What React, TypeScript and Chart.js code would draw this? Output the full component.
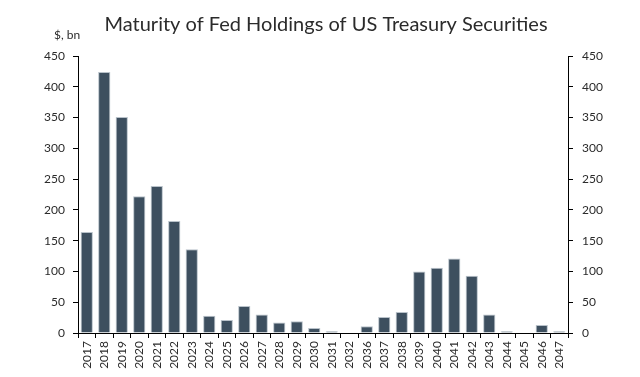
import React, { useEffect, useRef } from "react";
import { Chart, registerables } from "chart.js";

Chart.register(...registerables);

const titleText = "Maturity of Fed Holdings of US Treasury Securities";
const unitText = "$, bn";
const years = [
  "2017", "2018", "2019", "2020", "2021", "2022", "2023", "2024", "2025", "2026",
  "2027", "2028", "2029", "2030", "2031", "2032", "2036", "2037", "2038", "2039",
  "2040", "2041", "2042", "2043", "2044", "2045", "2046", "2047",
];
const holdings = [
  164, 424, 351, 222, 239, 182, 136, 28, 21, 44,
  30, 17, 19, 8, 3, 0, 11, 26, 34, 100,
  106, 121, 93, 30, 3, 0, 13, 3,
];
const yMin = 0;
const yMax = 450;
const yStep = 50;

const FONT = "Lato, 'Open Sans', sans-serif";
const TEXT = "#2b2b2b";

const textPlugin = {
  id: "extraText",
  afterDraw(chart: any) {
    const ctx = chart.ctx;
    ctx.save();
    ctx.fillStyle = TEXT;
    ctx.textBaseline = "alphabetic";
    ctx.textAlign = "center";
    ctx.font = `20px ${FONT}`;
    ctx.fillText(titleText, 326, 31);
    ctx.font = `12px ${FONT}`;
    ctx.textAlign = "left";
    ctx.fillText(unitText, 54, 39);
    ctx.restore();
  },
};

export default function App() {
  const ref = useRef<HTMLCanvasElement>(null);
  useEffect(() => {
    if (!ref.current) return;
    const axisCommon = {
      min: yMin,
      max: yMax,
      border: { display: true, color: "#000000", width: 1 },
      grid: { drawOnChartArea: false, drawTicks: true, tickLength: 5, color: "#000000" },
    };
    const chart = new Chart(ref.current, {
      type: "bar",
      data: {
        labels: years,
        datasets: [
          {
            data: holdings,
            backgroundColor: "#3d4f5f",
            borderColor: "#b9c2ca",
            borderWidth: 1,
            categoryPercentage: 1,
            barPercentage: 0.7,
            yAxisID: "y",
          },
        ],
      },
      options: {
        responsive: false,
        animation: false,
        layout: { padding: { top: 56, left: 0, right: 0, bottom: 0 } },
        plugins: { legend: { display: false }, title: { display: false }, tooltip: { enabled: false } },
        scales: {
          x: {
            offset: true,
            border: { display: true, color: "#000000", width: 1 },
            grid: { offset: true, drawOnChartArea: false, drawTicks: true, tickLength: 5, color: "#000000" },
            ticks: {
              autoSkip: false,
              minRotation: 90,
              maxRotation: 90,
              padding: 3,
              color: TEXT,
              font: { family: FONT, size: 12 },
            },
            afterFit(scale: any) {
              scale.height = 44;
            },
          },
          y: {
            ...axisCommon,
            position: "left",
            ticks: { stepSize: yStep, padding: 8, color: TEXT, font: { family: FONT, size: 12 } },
            afterFit(scale: any) {
              scale.width = 78;
            },
          },
          y2: {
            ...axisCommon,
            position: "right",
            ticks: { stepSize: yStep, padding: 9, color: TEXT, font: { family: FONT, size: 12 } },
            afterFit(scale: any) {
              scale.width = 72;
            },
          },
        },
      },
      plugins: [textPlugin],
    } as any);
    return () => chart.destroy();
  }, []);
  return (
    <div style={{ position: "fixed", left: 0, top: 0, width: 640, height: 377, background: "#fff" }}>
      <canvas ref={ref} width={640} height={377} style={{ display: "block" }} />
    </div>
  );
}
